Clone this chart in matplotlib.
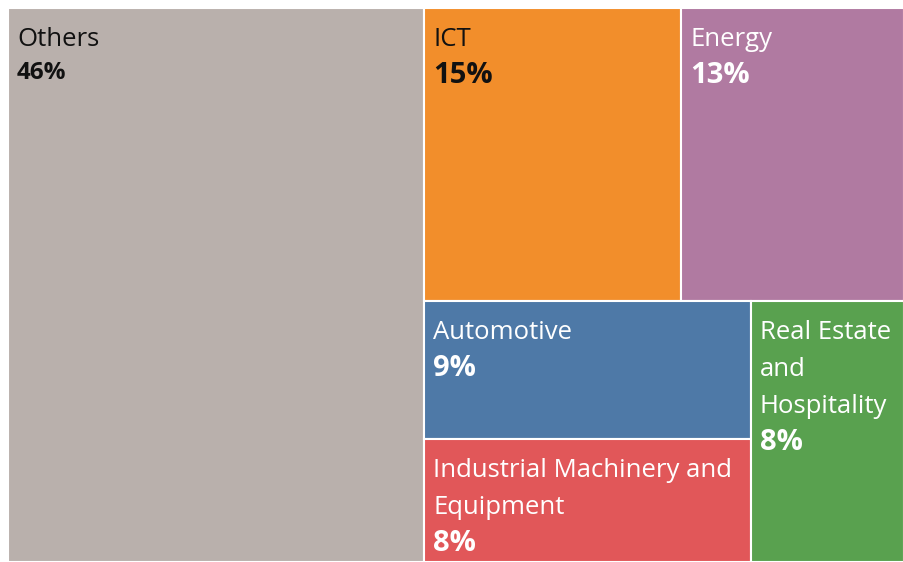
import matplotlib
matplotlib.use("Agg")
import matplotlib.pyplot as plt
from matplotlib.patches import Rectangle

categories = ["Others", "ICT", "Energy", "Automotive",
              "Industrial Machinery and\nEquipment", "Real Estate\nand\nHospitality"]
shares = [46, 15, 13, 9, 8, 8]
colors = ["#B9B0AC", "#F28E2B", "#B07AA1", "#4E79A7", "#E15759", "#59A14F"]
text_colors = ["#111111", "#111111", "white", "white", "white", "white"]

W, H = 904, 562
x0, y0, x1, y1 = 8, 8, 904, 562

fig = plt.figure(figsize=(W / 100, H / 100), dpi=100)
ax = fig.add_axes([0, 0, 1, 1])
ax.set_xlim(0, W)
ax.set_ylim(H, 0)
ax.axis("off")

# Layout: Others column | right block: top row (ICT, Energy), bottom row (column[Auto, Industrial], Real Estate)
total = sum(shares)
rects = {}
wo = (x1 - x0) * shares[0] / total
rects[0] = (x0, y0, wo, y1 - y0)
rx, ry, rw, rh = x0 + wo, y0, (x1 - x0) - wo, y1 - y0
rest = sum(shares[1:])
top_h = rh * (shares[1] + shares[2]) / rest
w_ict = rw * shares[1] / (shares[1] + shares[2])
rects[1] = (rx, ry, w_ict, top_h)
rects[2] = (rx + w_ict, ry, rw - w_ict, top_h)
bot_y = ry + top_h
bot_h = rh - top_h
bot_sum = shares[3] + shares[4] + shares[5]
col_w = rw * (shares[3] + shares[4]) / bot_sum
h_auto = bot_h * shares[3] / (shares[3] + shares[4])
rects[3] = (rx, bot_y, col_w, h_auto)
rects[4] = (rx, bot_y + h_auto, col_w, bot_h - h_auto)
rects[5] = (rx + col_w, bot_y, rw - col_w, bot_h)

font = ["Open Sans", "DejaVu Sans"]
pitch = 37
for i, (cat, s) in enumerate(zip(categories, shares)):
    x, y, w, h = rects[i]
    ax.add_patch(Rectangle((x, y), w, h, facecolor=colors[i],
                           edgecolor="white", linewidth=1.5))
    lines = cat.split("\n")
    for k, ln in enumerate(lines):
        ax.text(x + 9, y + 19 + k * pitch, ln, ha="left", va="top",
                fontsize=18.5, color=text_colors[i], family=font)
    ax.text(x + 9, y + 16 + len(lines) * pitch, f"{s}%", ha="left", va="top",
            fontsize=21 if i != 0 else 17.5, fontweight="bold",
            color=text_colors[i], family=font)

fig.savefig("out.png", dpi=100, facecolor="white")
